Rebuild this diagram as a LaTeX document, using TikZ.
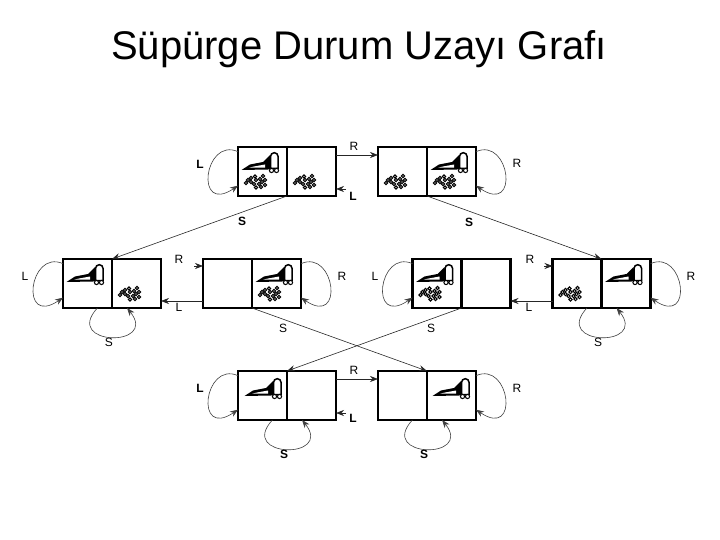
\documentclass[tikz,border=0pt]{standalone}
\usepackage{fontspec}
\setmainfont{Liberation Sans}
\usetikzlibrary{positioning,arrows.meta,calc}
\tikzset{
  cell/.style   ={rectangle, draw=black, line width=2.6pt, minimum size=49pt,
                  inner sep=0pt, outer sep=0pt},
  lab/.style    ={inner sep=0pt, font=\fontsize{12}{12}\selectfont},
  labb/.style   ={inner sep=0pt, font=\fontsize{12}{12}\selectfont\bfseries},
  move/.style   ={draw=black!85, line width=0.6pt, -{Stealth[length=8pt,width=6pt]}},
  loopmove/.style={draw=black!75, line width=0.6pt, -{Stealth[length=8pt,width=6pt]}},
  dirtdot/.style={draw=black, fill=white, line width=1pt},
}
% cells on the page are given in pixels of the reference, y downwards
\def\statelist{aL/262.5/171.5/aR, bL/402.5/171.5/bR,
               cL/87.5/283.5/cR, dL/227.5/283.5/dR, eL/437/283.5/eR, fL/577/283.5/fR,
               gL/262.5/395.5/gR, hL/402.5/395.5/hR}
\def\vaclist{aL/0/0, bR/0/0, cL/0/0, dR/0/0, eL/0/0, fR/0/0, gL/3/2, hR/2/2}
\def\dirtlist{aL, aR, bL, bR, cR, dR, eL, fL}
\def\lablist{la2/354/146/R, la4/517/163/R,
  lb1/25/276/L, lb2/109/342/S, lb3/179/259/R, lb4/179/307/L, lb5/342/276/R, lb6/283/328/S,
  lb7/375/276/L, lb8/431/328/S, lb9/530/259/R, lb10/529/307/L, lb11/598/342/S, lb12/691/276/R,
  lc3/354/370/R, lc5/517/388/R}
\def\boldlablist{la1/200/164/L, la3/353/196/L, la5/242/221/S, la6/469/222/S,
  lc1/200/388/L, lc2/284/454/S, lc4/353/418/L, lc6/424/454/S}
\newcommand{\vacicon}[3]{%
  \begin{scope}[shift={(#1.north west)},xshift=#2pt,yshift=-#3pt]
    \fill (3.5,23) -- (12,17.5) -- (25,15) -- (32,8) -- (34,22) -- (30,22.5) -- cycle;
    \fill[white] (11,20.7) -- (16,19.5) -- (27,17.5) -- (27,20.7) -- cycle;
    \draw[line width=1.5pt,fill=white] (32.5,21.5) -- (32.5,9.5) arc[start angle=180,end angle=0,x radius=3.8,y radius=-3.8]
      -- (40.1,21.5) -- cycle;
    \draw[line width=1pt,fill=white] (33.5,23.5) circle[radius=2.1] (38.5,23.5) circle[radius=2.1];
  \end{scope}}
\newcommand{\dirticon}[1]{%
  \begin{scope}[shift={(#1.north west)}]
    \foreach \x/\y in {8/36, 10/33, 13/35, 13/31, 16/37, 18/33, 17/29.5, 21/37, 22/32, 24/35, 25/29, 27/33, 23/40, 18/40.5, 27/38}
      {\draw[dirtdot] (\x,\y) circle[radius=1.7];}
  \end{scope}}
\newcommand{\loopL}[1]{\draw[loopmove] (#1.141) .. controls +(-34,-15) and +(-44,30) .. (#1.210);}
\newcommand{\loopR}[1]{\draw[loopmove] (#1.39) .. controls +(34,-15) and +(44,30) .. (#1.-30);}
\newcommand{\loopS}[2]{\draw[loopmove] (#1.-68) .. controls +(-35,38) and +(32,40) .. (#2.-111);}

\begin{document}
\begin{tikzpicture}[x=1pt,y=-1pt]
  \useasboundingbox (0,0) rectangle (720,540);
  \node[anchor=base,inner sep=0pt,font=\fontsize{40}{40}\selectfont] (title) at (359,60) {Süpürge Durum Uzayı Grafı};
  \foreach \n/\x/\y/\m in \statelist {
    \node[cell] (\n) at (\x,\y) {};
    \node[cell,right=0pt of \n] (\m) {};
  }
  \foreach \n/\dx/\dy in \vaclist {\vacicon{\n}{\dx}{\dy}}
  \foreach \n in \dirtlist {\dirticon{\n}}
  \foreach \n/\x/\y/\t in \lablist {\node[lab] (\n) at (\x,\y) {\t};}
  \foreach \n/\x/\y/\t in \boldlablist {\node[labb] (\n) at (\x,\y) {\t};}
  % free tails of the short stubs
  \coordinate (sa) at (346,189);
  \coordinate (sd) at (194,266);
  \coordinate (sf) at (544,266);
  \coordinate (sg) at (346,413);
  % moves along a row
  \draw[move] ($(aR.north east)+(0,8)$) -- ($(bL.north west)+(0,8)$);
  \draw[move] (sa) -- (sa-|aR.east);
  \draw[move] (dL.south west)++(0,-7) -- ($(cR.south east)+(0,-7)$);
  \draw[move] (sd) -- (sd-|dL.west);
  \draw[move] (fL.south west)++(0,-7) -- ($(eR.south east)+(0,-7)$);
  \draw[move] (sf) -- (sf-|fL.west);
  \draw[move] ($(gR.north east)+(0,8)$) -- ($(hL.north west)+(0,8)$);
  \draw[move] (sg) -- (sg-|gR.east);
  % moves between rows
  \draw[move] (aL.south east) -- (cL.north east);
  \draw[move] (bR.south west) -- (fL.north east);
  \draw[move] (dR.south west) -- (hL.north east);
  \draw[move] (eL.south east) -- (gL.north east);
  % self loops
  \foreach \n in {aL,cL,eL,gL} {\loopL{\n}}
  \foreach \n in {bR,dR,fR,hR} {\loopR{\n}}
  \foreach \a/\b in {cL/cR,fL/fR,gL/gR,hL/hR} {\loopS{\a}{\b}}
\end{tikzpicture}
\end{document}
